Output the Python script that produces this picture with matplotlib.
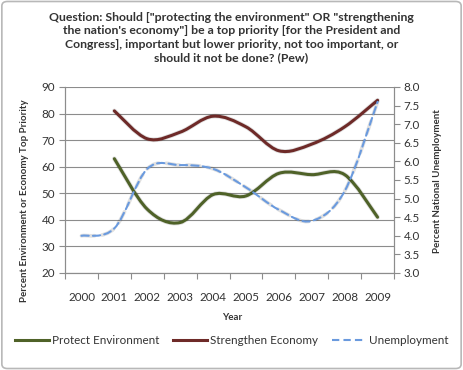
import numpy as np
import matplotlib
matplotlib.use("Agg")
import matplotlib.pyplot as plt
from matplotlib.path import Path
from matplotlib.patches import PathPatch, FancyBboxPatch
from matplotlib.lines import Line2D

plt.rcParams['font.family'] = ['Lato', 'DejaVu Sans']

years = ['2000', '2001', '2002', '2003', '2004', '2005', '2006', '2007', '2008', '2009']
environment = [None, 63, 44, 39, 49.5, 49, 57.5, 57, 57, 41]
economy = [None, 81, 70.5, 73, 79, 75, 66, 68.5, 75, 85]
unemployment = [4.0, 4.2, 5.8, 5.9, 5.8, 5.3, 4.7, 4.4, 5.2, 7.6]

green = '#4f6228'
red = '#6e2a28'
blue = '#6a9ade'
grid_col = '#8c8c8c'
txt = '#333333'


def smooth_path(xs, ys):
    # excel style smoothed line: cubic bezier through each point
    pts = np.column_stack([xs, ys]).astype(float)
    n = len(pts)
    verts = [pts[0]]
    codes = [Path.MOVETO]
    for i in range(n - 1):
        p0 = pts[i - 1] if i > 0 else pts[i]
        p1 = pts[i]
        p2 = pts[i + 1]
        p3 = pts[i + 2] if i + 2 < n else pts[i + 1]
        c1 = p1 + (p2 - p0) / 6.0
        c2 = p2 - (p3 - p1) / 6.0
        verts += [c1, c2, p2]
        codes += [Path.CURVE4] * 3
    return Path(verts, codes)


def draw_series(ax, vals, color, lw, ls='-'):
    xs = [i for i, v in enumerate(vals) if v is not None]
    ys = [v for v in vals if v is not None]
    path = smooth_path(xs, ys)
    # faint shadow like the original
    shadow = PathPatch(path, fill=False, edgecolor='#000000', alpha=0.12,
                       lw=lw + 1.2, linestyle=ls, transform=ax.transData,
                       capstyle='round', joinstyle='round')
    ax.add_patch(shadow)
    ax.add_patch(PathPatch(path, fill=False, edgecolor=color, lw=lw,
                           linestyle=ls, transform=ax.transData,
                           capstyle='round', joinstyle='round'))


fig = plt.figure(figsize=(4.63, 3.70), dpi=100)
fig.patch.set_facecolor('white')
fig.patches.append(FancyBboxPatch((0.004, 0.004), 0.992, 0.992,
                                  boxstyle='round,pad=0,rounding_size=0.012',
                                  transform=fig.transFigure, fill=False,
                                  edgecolor='#b8b8b8', lw=1.2))

ax = fig.add_axes([0.1404, 0.2622, 0.7106, 0.5027])
ax2 = ax.twinx()

x = np.arange(len(years))
ax.set_xlim(-0.5, 9.5)
ax.set_ylim(20, 90)
ax.set_yticks(range(20, 91, 10))
ax.set_xticks(x)
ax.set_xticklabels(years)
ax.set_xticks(np.arange(-0.5, 10, 1), minor=True)
ax.tick_params(axis='x', which='major', length=0, pad=14, labelsize=8.4, colors=txt)
ax.tick_params(axis='x', which='minor', length=4, color=grid_col, width=0.8)
ax.tick_params(axis='y', length=4, color=grid_col, width=0.8, labelsize=8.4,
               colors=txt, pad=3)
ax.grid(axis='y', color=grid_col, lw=0.8)
ax.set_axisbelow(True)

ax2.set_ylim(3.0, 8.0)
ax2.set_yticks(np.arange(3.0, 8.01, 0.5))
ax2.set_yticklabels([f'{v:.1f}' for v in np.arange(3.0, 8.01, 0.5)])
ax2.tick_params(axis='y', length=4, color=grid_col, width=0.8, labelsize=8.4,
                colors=txt, pad=3)

for a in (ax, ax2):
    a.spines['top'].set_visible(False)
    for s in ('left', 'right', 'bottom'):
        a.spines[s].set_color(grid_col)
        a.spines[s].set_linewidth(0.8)

draw_series(ax, environment, green, 2.2)
draw_series(ax, economy, red, 2.2)
draw_series(ax2, unemployment, blue, 1.5, ls=(0, (3.5, 2)))

fig.text(0.5, 1 - 12 / 370,
         'Question: Should ["protecting the environment" OR "strengthening\n'
         'the nation\'s economy"] be a top priority [for the President and\n'
         'Congress], important but lower priority, not too important, or\n'
         'should it not be done? (Pew)',
         ha='center', va='top', fontsize=8.8, fontweight='bold', color=txt,
         linespacing=1.26)

fig.text(25 / 463, 1 - 201 / 370, 'Percent Environment or Economy Top Priority',
         rotation=90, ha='center', va='center', fontsize=7, fontweight='bold',
         color=txt)
fig.text(437 / 463, 1 - 181 / 370, 'Percent National Unemployment',
         rotation=90, ha='center', va='center', fontsize=7, fontweight='bold',
         color=txt)
fig.text(232 / 463, 1 - 318 / 370, 'Year', ha='center', va='center',
         fontsize=7, fontweight='bold', color=txt)

handles = [Line2D([], [], color=green, lw=2.2),
           Line2D([], [], color=red, lw=2.2),
           Line2D([], [], color=blue, lw=1.5, ls=(0, (3.5, 2)))]
fig.legend(handles, ['Protect Environment', 'Strengthen Economy', 'Unemployment'],
           loc='center', bbox_to_anchor=(0.5, 1 - 341 / 370), ncol=3,
           frameon=False, fontsize=8.4, handlelength=2.9, handletextpad=0.25,
           columnspacing=1.2, labelcolor=txt)

fig.savefig('out.png', dpi=100)
